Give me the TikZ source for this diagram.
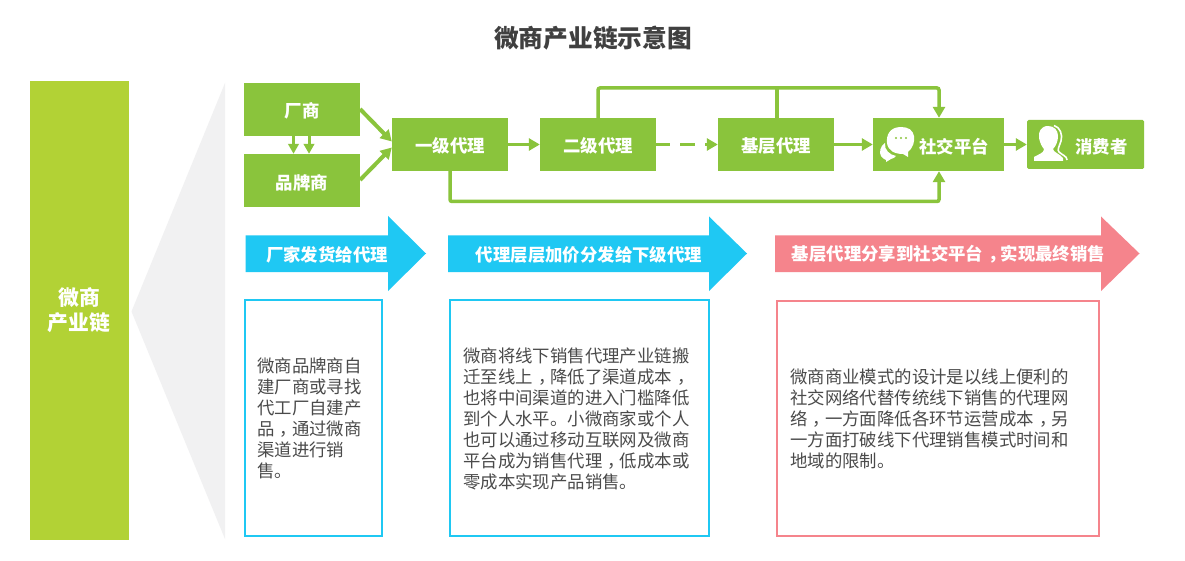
\documentclass[tikz,border=0pt]{standalone}
\usepackage{fontspec}
\setmainfont{Noto Sans CJK SC}
\usetikzlibrary{arrows.meta,positioning}
\definecolor{leaf}{HTML}{8AC43C}
\definecolor{lime}{HTML}{B2D235}
\definecolor{sky}{HTML}{1FC8F3}
\definecolor{coral}{HTML}{F5848C}
\definecolor{haze}{HTML}{F1F1F2}
\definecolor{ink}{HTML}{4A4A4A}
% full-width comma set in the middle of its cell
\newcommand{\midcomma}{\hspace{.3em}\makebox[.7em][l]{，}}
\tikzset{
  x=1pt,y=-1pt,
  greenbox/.style={fill=leaf,text=white,font=\fontsize{17.4}{20}\selectfont\bfseries,inner sep=0pt,minimum width=116pt,minimum height=53pt,text height=16pt,text depth=0pt},
  flow/.style={leaf,line width=3.5pt,-{Triangle[width=12pt,length=11pt]}},
  slant/.style={leaf,line width=4pt,-{Triangle[width=12pt,length=11pt]}},
  plain/.style={leaf,line width=3.5pt},
  banner/.style={text=white,font=\fontsize{17.4}{20}\selectfont\bfseries,inner sep=0pt},
  notetext/.style={text=ink,font=\fontsize{17.4}{21}\selectfont,align=left,inner sep=0pt,anchor=north west},
}
\begin{document}
\begin{tikzpicture}
\useasboundingbox (0,0) rectangle (1185,561);
\fill[white] (0,0) rectangle (1185,561);

% heading
\node[font=\fontsize{24.7}{28}\selectfont\bfseries,text={rgb,255:red,64;green,64;blue,64},inner sep=0pt] (title) at (593,38) {微商产业链示意图};

% left column and its fan
\fill[lime] (30,81) rectangle (129,540);
\node[text=white,font=\fontsize{20.8}{24.5}\selectfont\bfseries,align=center,inner sep=0pt] (chain) at (79,310) {微商\\产业链};
\fill[haze] (131.5,311.5) -- (225,83) -- (225,539) -- cycle;

% supply chain boxes
\node[greenbox] (maker) at (302,109.5) {厂商};
\node[greenbox,text height=17.5pt] (brand) at (302,180.5) {品牌商};
\node[greenbox] (agent1) at (450,144.5) {一级代理};
\node[greenbox] (agent2) at (598,144.5) {二级代理};
\node[greenbox] (agentb) at (776,144.5) {基层代理};
\node[greenbox,minimum width=131pt] (social) at (938.5,144.5) {};
\node[greenbox,minimum width=117pt,minimum height=49pt,rounded corners=1.5pt] (buyer) at (1085.5,144.5) {};
\node[banner] (sociallabel) at (954,147) {社交平台};
\node[banner] (buyerlabel) at (1101.5,147) {消费者};

% chat bubbles icon
\fill[white] (901,127) .. controls (890,127) and (886,135) .. (887,143) .. controls (888,151) and (895,154) .. (903,154) -- (908,157) -- (908,152) .. controls (913,148) and (915,141) .. (914,136) .. controls (913,130) and (908,127) .. (901,127) -- cycle;
\fill[white] (885,143) .. controls (880,146) and (879,153) .. (881,156) .. controls (882,158) and (884,159) .. (886,160) -- (886,162) -- (891,159) .. controls (893,158) and (895,158) .. (896,156) .. controls (890,155) and (884,150) .. (885,143) -- cycle;
\fill[leaf] (896,138) circle (1.1pt) (901,138) circle (1.1pt) (906,138) circle (1.1pt);

% person icon
\fill[white] (1048,126) .. controls (1041,126) and (1038,132) .. (1039,138) .. controls (1040,143) and (1042,147) .. (1044,149) .. controls (1044,153) and (1039,154) .. (1034,157) -- (1034,161) -- (1063,161) -- (1063,158) .. controls (1060,154) and (1053,152) .. (1053,149) .. controls (1056,146) and (1058,141) .. (1058,136) .. controls (1058,130) and (1054,126) .. (1048,126) -- cycle;
\draw[white,line width=1.6pt] (1054,125.5) .. controls (1060,127) and (1063,135) .. (1061,141) .. controls (1059,147) and (1057,150) .. (1059,152) .. controls (1062,155) and (1067,156) .. (1067,160);

% links between the boxes
\coordinate (makerA) at (360,109);
\coordinate (brandA) at (360,180);
\coordinate (dashEnd) at (705,144.5);
\draw[slant] (makerA) -- ([yshift=3pt]agent1.west);
\draw[slant] (brandA) -- ([yshift=-3pt]agent1.west);
\draw[flow,line width=3pt,-{Triangle[width=10.5pt,length=10pt]}] ([xshift=-8.5pt]maker.south) -- ([xshift=-8.5pt]brand.north);
\draw[flow,line width=3pt,-{Triangle[width=10.5pt,length=10pt]}] ([xshift=7pt]maker.south) -- ([xshift=7pt]brand.north);
\draw[flow] (agent1) -- (agent2);
\draw[plain,dash pattern=on 14pt off 10pt on 15pt off 100pt] (agent2) -- (agentb);
\draw[flow] (dashEnd) -- (agentb.west);
\draw[flow] (agentb) -- (social);
\draw[flow] (social) -- (buyer);
\coordinate (topL) at (598,88);
\coordinate (topM) at (777,88);
\coordinate (topR) at (939,88);
\coordinate (lowL) at (450,201.5);
\coordinate (lowR) at (939,201.5);
\draw[flow,rounded corners=2pt] (agent2.north) -- (topL) -- (topR) -- (social.north -| topR);
\draw[plain] (agentb.north -| topM) -- (topM);
\draw[flow,rounded corners=2pt] (agent1.south) -- (lowL) -- (lowR) -- (social.south -| lowR);

% banners
\fill[sky] (245.5,235.5) -- (388,235.5) -- (388,216) -- (426,253.5) -- (388,291) -- (388,272) -- (245.5,272) -- cycle;
\node[banner] (b1) at (327,254.5) {厂家发货给代理};
\fill[sky] (448,235.5) -- (709,235.5) -- (709,216.5) -- (747,253.5) -- (709,291) -- (709,272) -- (448,272) -- cycle;
\node[banner] (b2) at (589,254.5) {代理层层加价分发给下级代理};
\fill[coral] (775,235.5) -- (1101,235.5) -- (1101,216.5) -- (1139.5,253.5) -- (1101,291) -- (1101,272) -- (775,272) -- cycle;
\node[banner] (b3) at (948.5,254.5) {基层代理分享到社交平台\midcomma 实现最终销售};

% explanation boxes
\draw[sky,line width=2pt] (245,300) rectangle (382,536);
\node[notetext] (n1) at (257,358) {微商品牌商自\\建厂商或寻找\\代工厂自建产\\品\midcomma 通过微商\\渠道进行销\\售。};
\draw[sky,line width=2pt] (450,300) rectangle (709,536);
\node[notetext] (n2) at (463,348) {微商将线下销售代理产业链搬\\迁至线上\midcomma 降低了渠道成本\midcomma\\也将中间渠道的进入门槛降低\\到个人水平。小微商家或个人\\也可以通过移动互联网及微商\\平台成为销售代理\midcomma 低成本或\\零成本实现产品销售。};
\draw[coral,line width=2pt] (777,300.5) rectangle (1099,536);
\node[notetext] (n3) at (790,369) {微商商业模式的设计是以线上便利的\\社交网络代替传统线下销售的代理网\\络\midcomma 一方面降低各环节运营成本\midcomma 另\\一方面打破线下代理销售模式时间和\\地域的限制。};
\end{tikzpicture}
\end{document}
